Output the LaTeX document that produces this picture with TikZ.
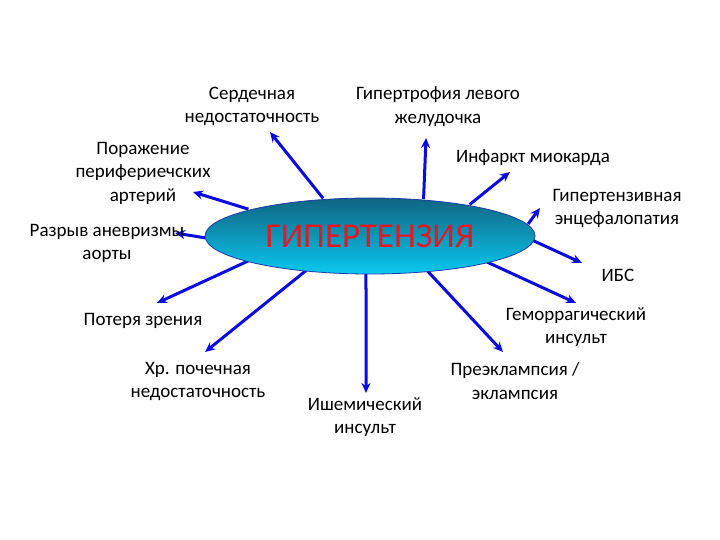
\documentclass[tikz,border=0pt]{standalone}
\usepackage{fontspec}
\setmainfont{Carlito}
\usetikzlibrary{arrows.meta,shapes.geometric}
\definecolor{arrblue}{RGB}{10,10,225}
\definecolor{ellTop}{RGB}{16,100,130}
\definecolor{ellBot}{RGB}{10,200,240}
\definecolor{ellEdge}{RGB}{30,60,170}
\definecolor{titlered}{RGB}{225,25,35}
\tikzset{
  lbl/.style={align=center,inner sep=0pt,font=\fontsize{19}{23.5}\selectfont},
  conn/.style={draw=arrblue,line width=3pt,-{Stealth[length=10pt,width=9pt]}},
}
\begin{document}
\begin{tikzpicture}[x=1pt,y=-1pt]
\useasboundingbox (0,0) rectangle (720,540);
\fill[white] (0,0) rectangle (720,540);
% tips
\coordinate (tSerd) at (270,132);
\coordinate (tPor) at (193,192);
\coordinate (tRaz) at (175,233);
\coordinate (tGip) at (426,138);
\coordinate (tInf) at (510,172);
\coordinate (tEnc) at (540,208);
\coordinate (tIbs) at (582,263);
\coordinate (tGem) at (576,303);
\coordinate (tPre) at (503,352);
\coordinate (tIsh) at (366,393);
\coordinate (tHr) at (205,352);
\coordinate (tPot) at (157,303);
\node[ellipse,minimum width=330pt,minimum height=76pt,inner sep=0pt] (hyp) at (370,235) {};
\draw[conn] (hyp.142.8) -- (tSerd);
\draw[conn] (hyp.168.3) -- (tPor);
\draw[conn] (hyp.181) -- (tRaz);
\draw[conn] (hyp.34.2) -- (tGip);
\draw[conn] (hyp.17.3) -- (tInf);
\draw[conn] (hyp.4.9) -- (tEnc);
\draw[conn] (hyp.-2.9) -- (tIbs);
\draw[conn] (hyp.-13) -- (tGem);
\draw[conn] (hyp.-32.3) -- (tPre);
\draw[conn] (hyp.-96) -- (tIsh);
\draw[conn] (hyp.209) -- (tHr);
\draw[conn] (hyp.192.5) -- (tPot);
\node[ellipse,minimum width=330pt,minimum height=76pt,inner sep=0pt,
  draw=ellEdge,line width=0.8pt,top color=ellTop,bottom color=ellBot,
  text=titlered,font=\fontsize{35}{40}\selectfont] (hypt) at (370,236) {ГИПЕРТЕНЗИЯ};
% labels
\node[lbl] (serd) at (252,106.5) {Сердечная\\недостаточность};
\node[lbl] (gip) at (438,106.5) {Гипертрофия левого\\желудочка};
\node[lbl] (por) at (143,173) {Поражение\\перифериечских\\артерий};
\node[lbl] (raz) at (107,243.5) {Разрыв аневризмы\\аорты};
\node[lbl] (inf) at (533,158) {Инфаркт миокарда};
\node[lbl] (enc) at (617,208.5) {Гипертензивная\\энцефалопатия};
\node[lbl] (ibs) at (618,275) {ИБС};
\node[lbl] (gem) at (576,327) {Геморрагический\\инсульт};
\node[lbl] (pre) at (515,381) {Преэклампсия /\\эклампсия};
\node[lbl] (ish) at (365,417) {Ишемический\\инсульт};
\node[lbl] (hr) at (198,381.5) {Хр. почечная\\недостаточность};
\node[lbl] (pot) at (143,321) {Потеря зрения};
\end{tikzpicture}
\end{document}
